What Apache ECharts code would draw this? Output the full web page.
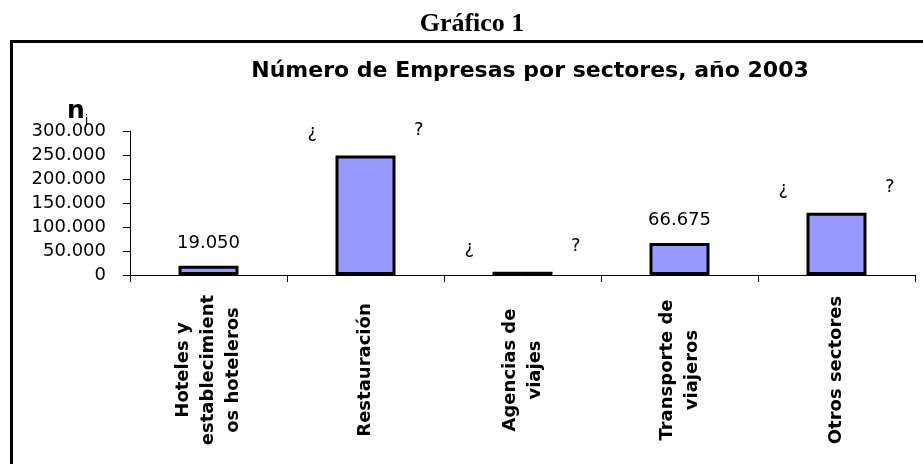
<!DOCTYPE html>
<html>
<head>
<meta charset="utf-8">
<script src="https://cdn.jsdelivr.net/npm/echarts@6/dist/echarts.min.js"></script>
<style>
    html, body { margin: 0; padding: 0; background: #fff; }
    #main { width: 923px; height: 464px; }
</style>
</head>
<body>
<div id="main"></div>
<script>
    // sectores y número de empresas (2003)
    var categories = ['Hoteles y\nestablecimient\nos hoteleros', 'Restauración', 'Agencias de\nviajes', 'Transporte de\nviajeros', 'Otros sectores'];
    var empresas = [19050, 249000, 6900, 66675, 129800];
    var valorVisible = [true, false, false, true, false]; // los demás se muestran como ¿ ?
    var yTicks = [0, 50000, 100000, 150000, 200000, 250000, 300000];

    var fuente = '"DejaVu Sans", Verdana, sans-serif';

    function miles(v) {
        return String(v).replace(/\B(?=(\d{3})+(?!\d))/g, '.');
    }

    var myChart = echarts.init(document.getElementById('main'), null, {renderer: 'canvas'});

    var option = {
        backgroundColor: '#fff',
        animation: false,
        textStyle: {fontFamily: fuente, color: '#000'},
        graphic: [{
            // marco del gráfico
            type: 'polyline',
            shape: {points: [[11.5, 470], [11.5, 41.5], [930, 41.5]]},
            style: {stroke: '#000', lineWidth: 3, fill: null}
        }, {
            type: 'text',
            x: 472, y: 24,
            style: {
                text: 'Gráfico 1',
                font: 'bold 26px "Liberation Serif", "Times New Roman", serif',
                fill: '#000', align: 'center', verticalAlign: 'middle'
            }
        }, {
            type: 'text',
            x: 530, y: 71,
            style: {
                text: 'Número de Empresas por sectores, año 2003',
                font: 'bold 22px ' + fuente,
                fill: '#000', align: 'center', verticalAlign: 'middle'
            }
        }, {
            // n sub i
            type: 'text',
            x: 67, y: 127,
            style: {
                text: '{n|n}{i|i}',
                fill: '#000', align: 'left', verticalAlign: 'bottom',
                rich: {
                    n: {font: 'bold 25px ' + fuente, fill: '#000', verticalAlign: 'bottom', padding: [0, 0, 3, 0]},
                    i: {font: '13px ' + fuente, fill: '#000', verticalAlign: 'bottom'}
                }
            }
        }],
        grid: {left: 130, right: 8, top: 131, bottom: 189, containLabel: false},
        xAxis: {
            type: 'category',
            data: categories,
            axisLine: {lineStyle: {color: '#000', width: 1}},
            axisTick: {show: true, length: 7, lineStyle: {color: '#000'}},
            axisLabel: {
                rotate: 90,
                interval: 0,
                margin: 95,
                fontSize: 18,
                fontWeight: 'bold',
                lineHeight: 25,
                color: '#000',
                align: 'center'
            }
        },
        yAxis: {
            type: 'value',
            min: yTicks[0],
            max: yTicks[yTicks.length - 1],
            interval: yTicks[1] - yTicks[0],
            axisLine: {show: true, lineStyle: {color: '#000', width: 1}},
            axisTick: {show: true, inside: false, length: 7, lineStyle: {color: '#000'}},
            splitLine: {show: false},
            axisLabel: {
                margin: 24,
                fontSize: 18,
                color: '#000',
                formatter: function (v) { return miles(v); }
            }
        },
        series: [{
            type: 'bar',
            data: empresas,
            barWidth: 60,
            itemStyle: {color: '#9999ff', borderColor: '#000', borderWidth: 3},
            label: {
                show: true,
                position: 'top',
                distance: 14,
                fontSize: 18,
                color: '#000',
                formatter: function (p) {
                    if (valorVisible[p.dataIndex]) {
                        return miles(p.value);
                    }
                    return '{a|¿}{sp|}{b|?}';
                },
                rich: {
                    a: {fontSize: 18, color: '#000', padding: [4, 0, 0, 0]},
                    sp: {width: 97},
                    b: {fontSize: 18, color: '#000'}
                }
            }
        }]
    };

    myChart.setOption(option);
</script>
</body>
</html>
